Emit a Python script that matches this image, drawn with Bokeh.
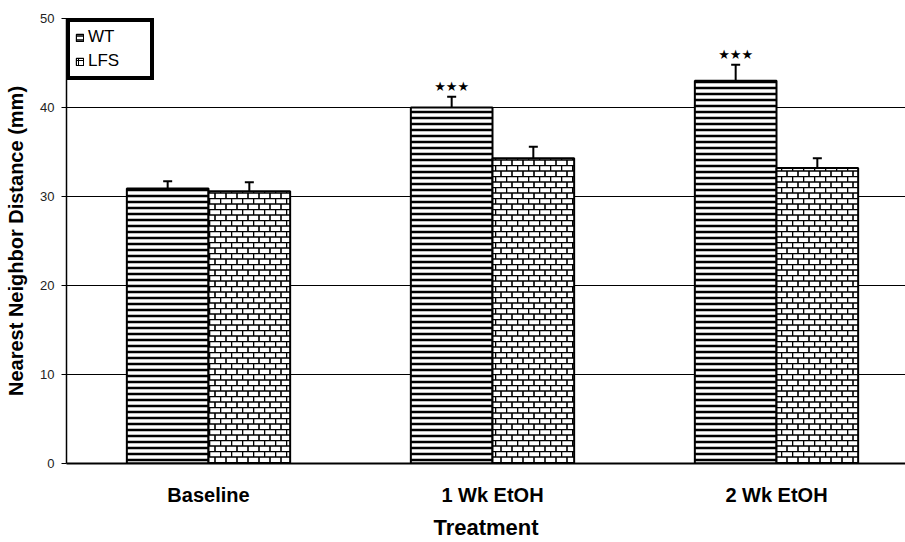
import base64
from bokeh.plotting import figure
from bokeh.models import (ColumnDataSource, Range1d, FixedTicker, Whisker, TeeHead,
                          Legend, LegendItem, ImageURLTexture)
from bokeh.embed import file_html
from bokeh.resources import INLINE
from bokeh.core.properties import value

# ---- data ----
categories = ["Baseline", "1 Wk EtOH", "2 Wk EtOH"]
series = ["WT", "LFS"]
wt_mean = [30.9, 40.0, 43.0]
wt_err = [0.8, 1.2, 1.8]
lfs_mean = [30.6, 34.3, 33.2]
lfs_err = [1.0, 1.3, 1.1]
wt_marks = ["", "\u2605\u2605\u2605", "\u2605\u2605\u2605"]
y_ticks = [0, 10, 20, 30, 40, 50]

# ---- layout helpers ----
positions = [i + 1 for i in range(len(categories))]
bar_w = 0.2875
wt_x = [p - bar_w / 2 for p in positions]
lfs_x = [p + bar_w / 2 for p in positions]

FONT = "Liberation Sans"

tile_svg = ('<svg xmlns="http://www.w3.org/2000/svg" width="11" height="11">'
            '<rect width="11" height="11" fill="white"/>'
            '<path d="M0 0.5H11M0 6H11M0.5 0V6M6 6V11" stroke="black" stroke-width="1.6" fill="none"/>'
            '</svg>')
brick = ImageURLTexture(url="data:image/svg+xml;base64," + base64.b64encode(tile_svg.encode()).decode(),
                        repetition="repeat")

p = figure(width=905, height=542, output_backend="svg", toolbar_location=None,
           x_range=Range1d(0.5, 0.5 + 839 / 284), y_range=Range1d(0, 50),
           min_border_left=66, min_border_right=0, min_border_top=18, min_border_bottom=78,
           background_fill_color="white", border_fill_color="white")
p.outline_line_color = None

wt_src = ColumnDataSource(dict(x=wt_x, top=wt_mean, upper=[m + e for m, e in zip(wt_mean, wt_err)],
                               marks=wt_marks))
lfs_src = ColumnDataSource(dict(x=lfs_x, top=lfs_mean, upper=[m + e for m, e in zip(lfs_mean, lfs_err)],
                                pattern=["brick"] * len(lfs_mean)))

p.vbar(x="x", top="top", bottom=0, width=bar_w, source=wt_src,
       fill_color="white", line_color="black", line_width=2,
       hatch_pattern="horizontal_line", hatch_color="black", hatch_scale=6, hatch_weight=2.5)
p.vbar(x="x", top="top", bottom=0, width=bar_w, source=lfs_src,
       fill_color="white", line_color="black", line_width=2,
       hatch_pattern="pattern", hatch_extra={"brick": brick}, hatch_color="black",
       hatch_scale=11, hatch_weight=1.4)

for src in (wt_src, lfs_src):
    w = Whisker(base="x", lower="top", upper="upper", source=src, dimension="height",
                line_color="black", line_width=2,
                upper_head=TeeHead(size=9, line_width=2, line_color="black"), lower_head=None)
    p.add_layout(w)

p.text(x="x", y="upper", text="marks", source=wt_src, text_align="center",
       text_baseline="bottom", y_offset=-3, text_font=value("DejaVu Sans"),
       text_font_size="13px", text_color="black")

# legend proxies (hidden copies with thin outline, like the reference icons)
leg_wt = p.vbar(x="x", top="top", width=bar_w, source=wt_src, visible=False,
                fill_color="white", line_color="black", line_width=1.2,
                hatch_pattern="horizontal_line", hatch_color="black", hatch_scale=4, hatch_weight=1.5)
leg_lfs = p.vbar(x="x", top="top", width=bar_w, source=lfs_src, visible=False,
                 fill_color="white", line_color="black", line_width=1.2,
                 hatch_pattern="cross", hatch_color="black", hatch_scale=5, hatch_weight=1)
legend = Legend(items=[LegendItem(label=series[0], renderers=[leg_wt]),
                       LegendItem(label=series[1], renderers=[leg_lfs])],
                location="top_left", margin=0, padding=5, spacing=4,
                glyph_width=9, glyph_height=9, label_standoff=4, label_width=57,
                label_text_font=FONT, label_text_font_size="17px", label_text_color="black",
                border_line_color="black", border_line_width=4, border_line_alpha=1,
                background_fill_color="white", background_fill_alpha=1)
p.add_layout(legend)

# axes
p.yaxis.ticker = FixedTicker(ticks=y_ticks)
p.yaxis.axis_label = "Nearest Neighbor Distance (mm)"
p.yaxis.axis_label_text_font = FONT
p.yaxis.axis_label_text_font_style = "bold"
p.yaxis.axis_label_text_font_size = "20px"
p.yaxis.axis_label_text_color = "black"
p.yaxis.axis_label_standoff = 10
p.yaxis.major_label_text_font = FONT
p.yaxis.major_label_text_font_size = "13px"
p.yaxis.major_label_text_color = "#222222"
p.yaxis.major_label_standoff = 7
p.yaxis.major_tick_out = 5
p.yaxis.major_tick_in = 0
p.yaxis.minor_tick_line_color = None
p.yaxis.axis_line_width = 1.5
p.yaxis.axis_line_color = "black"
p.yaxis.major_tick_line_color = "black"

p.xaxis.ticker = FixedTicker(ticks=positions)
p.xaxis.major_label_overrides = {pos: c for pos, c in zip(positions, categories)}
p.xaxis.axis_label = "Treatment"
p.xaxis.axis_label_text_font = FONT
p.xaxis.axis_label_text_font_style = "bold"
p.xaxis.axis_label_text_font_size = "22px"
p.xaxis.axis_label_text_color = "black"
p.xaxis.axis_label_standoff = 6
p.xaxis.major_label_text_font = FONT
p.xaxis.major_label_text_font_style = "bold"
p.xaxis.major_label_text_font_size = "20px"
p.xaxis.major_label_text_color = "black"
p.xaxis.major_label_standoff = 20
p.xaxis.major_tick_out = 0
p.xaxis.major_tick_in = 0
p.xaxis.minor_tick_line_color = None
p.xaxis.axis_line_width = 2
p.xaxis.axis_line_color = "black"

p.xgrid.grid_line_color = None
p.ygrid.ticker = FixedTicker(ticks=y_ticks)
p.ygrid.grid_line_color = "black"
p.ygrid.grid_line_width = 1

open("out.html", "w").write(file_html(p, INLINE))
